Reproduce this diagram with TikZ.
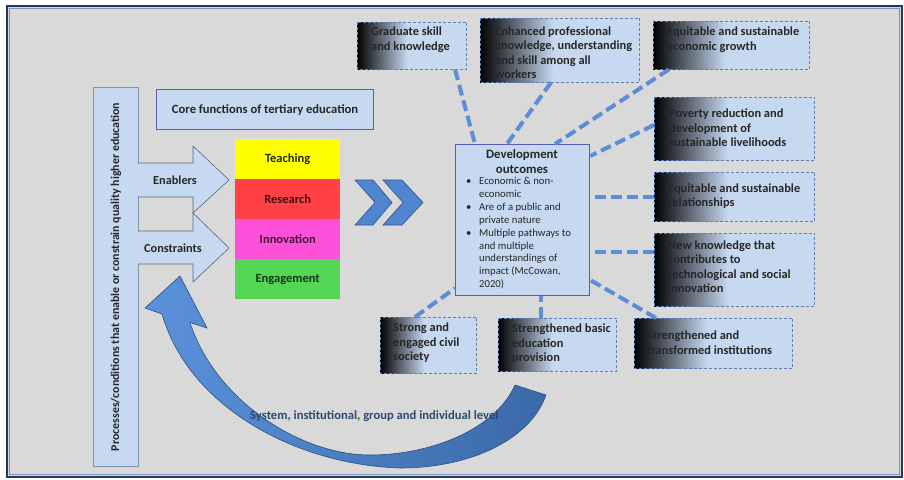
\documentclass[tikz,border=0pt]{standalone}
\usepackage{fontspec}
\setmainfont{Carlito}
\usetikzlibrary{calc}
\definecolor{lb}{HTML}{C6D9F1}
\definecolor{bggray}{HTML}{D9D9D9}
\definecolor{navy}{HTML}{1F3864}
\definecolor{frameb}{HTML}{7F93B5}
\definecolor{dashblue}{HTML}{5B8ED6}
\definecolor{boxedge}{HTML}{5E7FBE}
\definecolor{txt}{HTML}{262626}
\definecolor{purpedge}{HTML}{5A5AB8}
\definecolor{chevfill}{HTML}{4F86CF}
\definecolor{chevedge}{HTML}{2E5593}
\definecolor{arrlight}{HTML}{5A92DA}
\definecolor{arrdark}{HTML}{3A69A8}
\definecolor{arredge}{HTML}{2D4F7F}
\definecolor{leveltxt}{HTML}{2E4A70}
\definecolor{yel}{HTML}{FFFF00}
\definecolor{red1}{HTML}{FF4046}
\definecolor{mag}{HTML}{FF50DA}
\definecolor{grn}{HTML}{54D654}
\newcommand{\gradbox}[1]{%
  \shade[left color=black, right color=lb] (#1.north west) rectangle ($(#1.south west)!0.46!(#1.south east)$);
  \draw[draw=boxedge, densely dashed, line width=0.6pt] (#1.north west) rectangle (#1.south east);}
\begin{document}
\begin{tikzpicture}[x=1pt,y=-1pt,
  outbox/.style={fill=lb, anchor=north west, inner sep=0, minimum width=#1},
  outbox/.default=100,
  lbl/.style={anchor=west, align=left, font=\bfseries\fontsize{12.4}{14.5}\selectfont, text=txt, inner sep=0},
  conn/.style={draw=dashblue, line width=4pt, dash pattern=on 11pt off 5pt},
  stackbox/.style={anchor=north west, inner sep=0, minimum width=105, minimum height=40, font=\bfseries\fontsize{12.5}{14}\selectfont},
  bigarrow/.style={fill=lb, draw=#1, line width=0.6pt},
  chev/.style={fill=chevfill, draw=chevedge, line width=0.6pt, line join=miter}
]
\useasboundingbox (0,0) rectangle (904,479);
% background and frame
\fill[white] (0,0) rectangle (904,479);
\fill[bggray] (7,6) rectangle (902,477);
\draw[navy, line width=2pt] (7,6) rectangle (902,477);
\draw[frameb, line width=1pt] (9.5,8.5) rectangle (899.5,474.5);

% vertical process box
\node[anchor=north west, fill=lb, draw=frameb, line width=0.8pt, minimum width=45, minimum height=379, inner sep=0] (proc) at (93,87) {};
\node[rotate=90, font=\bfseries\fontsize{11.9}{14}\selectfont, text=txt] (proctxt) at (proc.center) {Processes/conditions that enable or constrain quality higher education};

% core functions box
\node[anchor=north west, fill=lb, draw=purpedge, line width=1.2pt, minimum width=217, minimum height=40, inner sep=0, font=\bfseries\fontsize{12.6}{14}\selectfont, text=txt] (core) at (156,89) {Core functions of tertiary education};

% enablers / constraints arrows
\draw[bigarrow=frameb!70!black] (138,163) -- (193,163) -- (193,146) -- (229,180) -- (193,213) -- (193,197) -- (138,197);
\draw[bigarrow=frameb!70!black] (138,231) -- (193,231) -- (193,213) -- (229,248) -- (193,282) -- (193,264) -- (138,264);
\node[font=\bfseries\fontsize{12.3}{14}\selectfont, text=txt] (enab) at (175,180) {Enablers};
\node[font=\bfseries\fontsize{12.3}{14}\selectfont, text=txt] (cons) at (173,248) {Constraints};

% stack
\node[stackbox, fill=yel, text=black!85!yel] (teach) at (235,139) {Teaching};
\node[stackbox, fill=red1, text=black!75!red1] (res) at (235,179) {Research};
\node[stackbox, fill=mag, text=black!75!mag] (innov) at (235,219) {Innovation};
\node[stackbox, fill=grn, text=black!75!grn] (engage) at (235,259) {Engagement};

% chevrons
\draw[chev] (355,180) -- (373,180) -- (392,202.5) -- (373,225) -- (355,225) -- (375,202.5) -- cycle;
\draw[chev] (383,180) -- (402,180) -- (423,202.5) -- (402,225) -- (383,225) -- (403,202.5) -- cycle;

% big curved arrow
\path[left color=arrlight, right color=arrdark] (180,276) -- (207,328) -- (190,322.5) .. controls (215,400) and (300,455) .. (370,455) .. controls (430,455) and (495,430) .. (515,385) -- (546,395) .. controls (530,440) and (470,468) .. (400,468) .. controls (300,465) and (190,410) .. (162,314) -- (145,308) -- cycle;
\draw[arredge, line width=0.6pt, line join=miter] (180,276) -- (207,328) -- (190,322.5) .. controls (215,400) and (300,455) .. (370,455) .. controls (430,455) and (495,430) .. (515,385) -- (546,395) .. controls (530,440) and (470,468) .. (400,468) .. controls (300,465) and (190,410) .. (162,314) -- (145,308) -- cycle;
\node[anchor=west, font=\bfseries\fontsize{12.6}{14}\selectfont, text=leveltxt, inner sep=0] (level) at (250,416) {System, institutional, group and individual level};

% development outcomes box
\node[anchor=north west, fill=lb, draw=purpedge, line width=1.2pt, minimum width=134, minimum height=151, inner sep=0] (dev) at (455,144) {};
\node[align=center, font=\bfseries\fontsize{12.8}{15}\selectfont, text=txt, inner sep=0] (devtitle) at (522,162) {Development\\outcomes};
\node[anchor=north west, align=left, inner sep=0, font=\fontsize{10.7}{12.9}\selectfont, text=txt] (devlist) at (466,177) {%
\makebox[13pt][l]{\textbullet}Economic \& non-\\
\hspace*{13pt}economic\\
\makebox[13pt][l]{\textbullet}Are of a public and\\
\hspace*{13pt}private nature\\
\makebox[13pt][l]{\textbullet}Multiple pathways to\\
\hspace*{13pt}and multiple\\
\hspace*{13pt}understandings of\\
\hspace*{13pt}impact (McCowan,\\
\hspace*{13pt}2020)};

% outcome boxes
\node[outbox=109, minimum height=47] (g1) at (357,22) {};
\node[outbox=159, minimum height=64] (g2) at (480,18) {};
\node[outbox=156, minimum height=48] (g3) at (653,21) {};
\node[outbox=160, minimum height=63] (g4) at (654,97) {};
\node[outbox=160, minimum height=49] (g5) at (654,172) {};
\node[outbox=160, minimum height=73] (g6) at (654,233) {};
\node[outbox=158, minimum height=50] (g7) at (634,318) {};
\node[outbox=118, minimum height=53] (g8) at (498,318) {};
\node[outbox=96, minimum height=56] (g9) at (380,317) {};
\gradbox{g1}\gradbox{g2}\gradbox{g3}\gradbox{g4}\gradbox{g5}\gradbox{g6}\gradbox{g7}\gradbox{g8}\gradbox{g9}

\node[lbl] (t1) at (371,39.5) {Graduate skill\\and knowledge};
\node[lbl] (t2) at (495,52.5) {Enhanced professional\\knowledge, understanding\\and skill among all\\workers};
\node[lbl] (t3) at (667,39.5) {Equitable and sustainable\\economic growth};
\node[lbl] (t4) at (669,127.7) {Poverty reduction and\\development of\\sustainable livelihoods};
\node[lbl] (t5) at (668,196) {Equitable and sustainable\\relationships};
\node[lbl] (t6) at (668,266.5) {New knowledge that\\contributes to\\technological and social\\innovation};
\node[lbl] (t7) at (647,342.5) {Strengthened and\\transformed institutions};
\node[lbl] (t8) at (512,343.7) {Strengthened basic\\education\\provision};
\node[lbl] (t9) at (393,343) {Strong and\\engaged civil\\society};

% connectors
\draw[conn] ($(g1.south west)+(98,0)$) -- ($(dev.north west)+(20,0)$);
\draw[conn] ($(g2.south west)+(71,0)$) -- ($(dev.north west)+(52,0)$);
\draw[conn] ($(g3.south west)+(16,0)$) -- ($(dev.north west)+(100,0)$);
\draw[conn] ($(g4.north west)+(0,28)$) -- ($(dev.north east)+(0,12)$);
\draw[conn] (g5.west) -- (g5.west -| dev.east);
\draw[conn] ($(g6.north west)+(0,19)$) -- ($(dev.north east)+(0,108)$);
\draw[conn] ($(g7.north west)+(22,0)$) -- ($(dev.north east)+(0,136)$);
\draw[conn] ($(g8.north west)+(43,0)$) -- ($(dev.south west)+(86,0)$);
\draw[conn] ($(g9.north west)+(35,0)$) -- ($(dev.south west)+(0,-8)$);
\end{tikzpicture}
\end{document}
